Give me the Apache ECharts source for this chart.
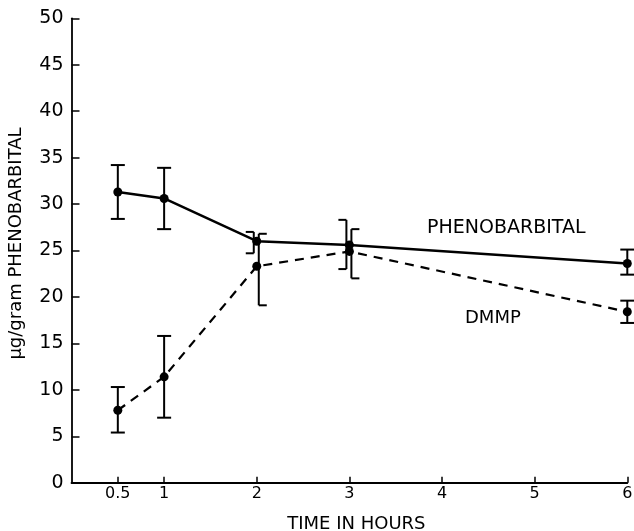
<!DOCTYPE html>
<html>
<head>
<meta charset="utf-8">
<script src="https://cdn.jsdelivr.net/npm/echarts@6/dist/echarts.min.js"></script>
<style>
html, body { margin: 0; padding: 0; background: #fff; }
#chart { width: 634px; height: 531px; }
</style>
</head>
<body>
<div id="chart"></div>
<script>
// time points (hours)
var hours = [0.5, 1, 2, 3, 6];
var xTickValues = [0.5, 1, 2, 3, 4, 5, 6];

// phenobarbital, ug/gram
var phenobarbital = [31.3, 30.6, 26.0, 25.6, 23.6];
var phenoLow = [28.4, 27.3, 24.7, 23.0, 22.4];
var phenoHigh = [34.2, 33.9, 27.0, 28.3, 25.1];

// DMMP
var dmmp = [7.8, 11.4, 23.3, 24.9, 18.4];
var dmmpLow = [5.4, 7.0, 19.1, 22.0, 17.2];
var dmmpHigh = [10.3, 15.8, 26.8, 27.3, 19.6];

var fontName = 'DejaVu Sans';

function pairs(xs, ys) {
	var out = [];
	for (var i = 0; i < xs.length; i++) {
		out.push([xs[i], ys[i]]);
	}
	return out;
}

function bars(xs, lo, hi) {
	var out = [];
	for (var i = 0; i < xs.length; i++) {
		out.push([xs[i], lo[i], hi[i]]);
	}
	return out;
}

// where the two ranges overlap the bars are drawn as brackets side by side
function overlaps(i) {
	return phenoLow[i] < dmmpHigh[i] && dmmpLow[i] < phenoHigh[i];
}

function errorBar(side) {
	return function (params, api) {
		var i = params.dataIndex;
		var top = api.coord([api.value(0), api.value(2)]);
		var bottom = api.coord([api.value(0), api.value(1)]);
		var style = { stroke: '#000', lineWidth: 2, fill: null };
		var vx, x1, x2;
		if (overlaps(i)) {
			vx = top[0] + (side < 0 ? -3 : 2);
			x1 = vx;
			x2 = vx + side * 8;
		} else {
			vx = top[0];
			x1 = vx - 7;
			x2 = vx + 7;
		}
		return {
			type: 'group',
			children: [
				{ type: 'line', shape: { x1: vx, y1: top[1], x2: vx, y2: bottom[1] }, style: style },
				{ type: 'line', shape: { x1: x1, y1: top[1], x2: x2, y2: top[1] }, style: style },
				{ type: 'line', shape: { x1: x1, y1: bottom[1], x2: x2, y2: bottom[1] }, style: style }
			]
		};
	};
}

var chart = echarts.init(document.getElementById('chart'));
chart.setOption({
	animation: false,
	backgroundColor: '#fff',
	grid: { left: 71.5, right: 6.7, top: 18.3, bottom: 48.3, outerBoundsMode: 'none', containLabel: false },
	xAxis: {
		type: 'value',
		min: 0,
		max: 6,
		name: 'TIME IN HOURS',
		nameLocation: 'middle',
		nameGap: 33,
		nameTextStyle: { fontFamily: fontName, fontSize: 18, color: '#000', padding: [0, 0, 0, 14] },
		splitLine: { show: false },
		axisLine: { lineStyle: { color: '#000', width: 1.8 } },
		axisTick: { inside: true, length: 6, customValues: xTickValues, lineStyle: { color: '#000', width: 1.5 } },
		axisLabel: {
			customValues: xTickValues,
			margin: 3,
			fontFamily: fontName,
			fontSize: 16,
			color: '#000'
		}
	},
	yAxis: {
		type: 'value',
		min: 0,
		max: 50,
		interval: 5,
		name: 'μg/gram PHENOBARBITAL',
		nameLocation: 'middle',
		nameGap: 46,
		nameTextStyle: { fontFamily: fontName, fontSize: 18, color: '#000', padding: [0, 0, 0, 14] },
		splitLine: { show: false },
		axisLine: { show: true, lineStyle: { color: '#000', width: 1.8 } },
		axisTick: { show: true, inside: true, length: 8, lineStyle: { color: '#000', width: 1.5 } },
		axisLabel: { margin: 8, fontFamily: fontName, fontSize: 19, color: '#000' }
	},
	graphic: [
		{ type: 'text', left: 427, top: 219, style: { text: 'PHENOBARBITAL', font: '19px "DejaVu Sans"', fill: '#000' } },
		{ type: 'text', left: 465, top: 309, style: { text: 'DMMP', font: '18px "DejaVu Sans"', fill: '#000' } }
	],
	series: [
		{
			name: 'phenobarbital bars',
			type: 'custom',
			renderItem: errorBar(-1),
			encode: { x: 0, y: [1, 2] },
			data: bars(hours, phenoLow, phenoHigh),
			z: 2
		},
		{
			name: 'DMMP bars',
			type: 'custom',
			renderItem: errorBar(1),
			encode: { x: 0, y: [1, 2] },
			data: bars(hours, dmmpLow, dmmpHigh),
			z: 2
		},
		{
			name: 'PHENOBARBITAL',
			type: 'line',
			data: pairs(hours, phenobarbital),
			symbol: 'circle',
			symbolSize: 9,
			itemStyle: { color: '#000' },
			lineStyle: { color: '#000', width: 2.5 },
			z: 3
		},
		{
			name: 'DMMP',
			type: 'line',
			data: pairs(hours, dmmp),
			symbol: 'circle',
			symbolSize: 9,
			itemStyle: { color: '#000' },
			lineStyle: { color: '#000', width: 2.2, type: [9, 7] },
			z: 3
		}
	]
});
</script>
</body>
</html>
